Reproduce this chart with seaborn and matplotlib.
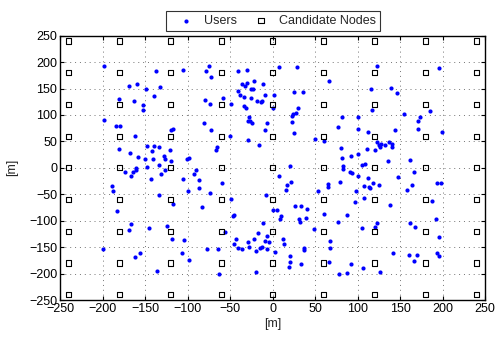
import numpy as np
import pandas as pd
import matplotlib
matplotlib.use("Agg")
import matplotlib.pyplot as plt
import seaborn as sns

# user positions [m]
user_x = [
    -198, -137, -105, -169, -159, -149, -132, -181, -163, -139, -152, -152, -198, -184, -180, -120, -117,
    -162, -148, -139, -134, -181, -121, -168, -142, -158, -150, -141, -128, -126, -119, -101, -98, -133,
    -174, -161, -161, -164, -167, -148, -126, -131, -143, -105, -90, -92, -86, -87, -99, -189, -188,
    -134, -117, -183, -167, -169, -145, -124, -118, -104, -199, -156, -162, -106, -98, -136,
    -75, -78, -72, -41, -30, 8, 29, 66, -36, -30, -32, -22, -11, -25, -23, -41, -38, -33, -9, 2, -25,
    -18, -13, -14, 25, 36, -58, -80, -73, -49, -33, -31, 1, 30, 28, 24, 23, -28, -29, -27, -24, -81,
    -6, 23, 77, -72, -9, 25, -50, -29, 50, 60, -16, -65, -66,
    21, -83, -59, -74, 8, 17, 22, 16, 54, 65, 65, 79, -8, -49, 26, 33, 40, 1, 5, -46, -45, 10, 9, 31,
    32, 39, 61, 77, -11, 49, -56, -17, -6, -43, -45, -22, -29, -9, -4, 12, 14, 67, -77, -64, -41, -36,
    -28, -15, -13, -20, -6, 3, 37, 37, 67, 21, 21, 19, 33, 66, -63, -20, 78,
    123, 196, 116, 139, 146, 117, 155, 185, 173, 171, 82, 101, 101, 112, 144, 171, 199, 123, 125, 128,
    126, 132, 137, 140, 141, 80, 111, 120, 101, 92, 82, 162, 136, 109,
    83, 83, 105, 91, 93, 101, 166, 112, 147, 108, 113, 115, 118, 125, 158, 164, 194, 198, 98, 97, 108,
    138, 187, 87, 105, 123, 120, 162, 168, 192, 196, 142, 161, 170, 166, 194, 196, 92, 106, 126, 87,
]
user_y = [
    193, 183, 186, 155, 158, 149, 152, 130, 127, 135, 118, 109, 90, 79, 79, 72, 74,
    60, 41, 41, 39, 36, 34, 28, 32, 20, 17, 17, 22, 16, 13, 17, 19, 6,
    -7, -1, -5, -7, -15, 2, -5, -12, -21, -22, -4, -12, -23, -38, -43, -34, -44,
    -51, -68, -81, -106, -117, -113, -110, -135, -137, -154, -161, -169, -161, -175, -196,
    193, 184, 171, 183, 185, 191, 190, 165, 159, 161, 155, 164, 159, 150, 149, 145, 138, 134, 138, 137, 132,
    127, 127, 125, 144, 143, 132, 129, 121, 121, 117, 113, 113, 114, 104, 101, 99, 96, 89, 89, 85, 85,
    85, 86, 78, 72, 72, 66, 60, 53, 55, 50, 44, 39, 34,
    4, -75, -29, -47, -16, -32, -26, -41, -44, -31, -36, -27, -52, -59, -72, -72, -78, -79, -79, -91, -89, -92, -97, -96,
    -102, -94, -87, -102, -104, -116, -121, -123, -128, -135, -144, -135, -140, -139, -140, -134, -144, -139, -153, -154, -151, -154,
    -150, -152, -150, -157, -153, -159, -152, -155, -152, -166, -179, -187, -182, -178, -200, -197, -200,
    193, 188, 150, 151, 142, 110, 102, 108, 97, 88, 97, 96, 74, 68, 71, 73, 68, 48, 43, 45,
    40, 43, 48, 45, 40, 38, 36, 34, 27, 22, 19, 15, 13, 7,
    4, -2, 5, -7, -10, -15, -7, -19, -17, -34, -36, -39, -29, -32, -41, -32, -29, -29, -44, -65, -57,
    -71, -63, -89, -114, -104, -111, -104, -112, -97, -130, -162, -164, -164, -176, -161, -167, -181, -189, -197, -198,
]

# candidate node grid [m]
node_coords = [-240, -180, -120, -60, 0, 60, 120, 180, 240]

ticks = list(range(-250, 251, 50))

users = pd.DataFrame({"x": user_x, "y": user_y})
gx, gy = np.meshgrid(node_coords, node_coords)
nodes = pd.DataFrame({"x": gx.ravel(), "y": gy.ravel()})

sns.set_style("ticks")
plt.rcParams["font.family"] = ["Liberation Sans", "DejaVu Sans"]
plt.rcParams["xtick.direction"] = "in"
plt.rcParams["ytick.direction"] = "in"
plt.rcParams["xtick.top"] = True
plt.rcParams["ytick.right"] = True

fig = plt.figure(figsize=(4.96, 3.38), dpi=100)
ax = fig.add_axes([0.121, 0.1124, 0.857, 0.782])

sns.scatterplot(data=users, x="x", y="y", ax=ax, color="#0000ff", marker="o",
                s=9, linewidth=0, label="Users", zorder=3)
sns.scatterplot(data=nodes, x="x", y="y", ax=ax, marker="s", s=14,
                facecolor="none", edgecolor="black", linewidth=0.8,
                label="Candidate Nodes", zorder=3)

ax.set_xlim(-250, 250)
ax.set_ylim(-250, 250)
ax.set_xticks(ticks)
ax.set_yticks(ticks)
ax.tick_params(labelsize=9, length=3, width=0.8, colors="black", pad=2)
ax.grid(True, linestyle=(0, (1, 4)), color="0.45", linewidth=0.7)
for sp in ax.spines.values():
    sp.set_linewidth(1.0)
    sp.set_color("black")

ax.set_xlabel("[m]", fontsize=9, labelpad=2)
ax.set_ylabel("[m]", fontsize=9, labelpad=8)

ax.legend_.remove()
h, l = ax.get_legend_handles_labels()
leg = fig.legend(h, l, loc="upper center", bbox_to_anchor=(0.5504, 0.985), ncol=2,
                 frameon=True, fancybox=False, edgecolor="black", fontsize=9,
                 handletextpad=0.15, columnspacing=0.6, borderpad=0.3,
                 handlelength=2.6, markerscale=1.0)
leg.get_frame().set_linewidth(0.8)

fig.savefig("out.png", dpi=100)
